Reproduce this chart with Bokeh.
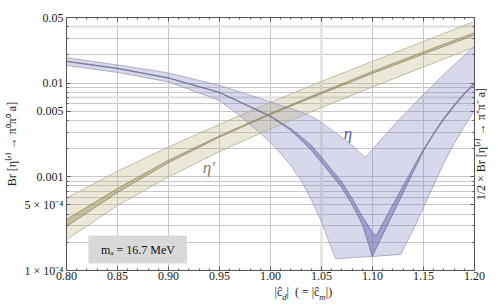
import math
from bokeh.plotting import figure
from bokeh.models import (FixedTicker, LogAxis, LinearAxis, Label, CustomJSTickFormatter,
                          BoxAnnotation, Span)
from bokeh.embed import file_html
from bokeh.resources import INLINE

FONT = "Liberation Serif"

# ---------------- data ----------------
x_ticks = [0.80, 0.85, 0.90, 0.95, 1.00, 1.05, 1.10, 1.15, 1.20]
x_tick_labels = ["0.80", "0.85", "0.90", "0.95", "1.00", "1.05", "1.10", "1.15", "1.20"]
x_minor = [0.81, 0.82, 0.83, 0.84, 0.86, 0.87, 0.88, 0.89, 0.91, 0.92, 0.93, 0.94,
           0.96, 0.97, 0.98, 0.99, 1.01, 1.02, 1.03, 1.04, 1.06, 1.07, 1.08, 1.09,
           1.11, 1.12, 1.13, 1.14, 1.16, 1.17, 1.18, 1.19]
x_grid = [0.85, 0.90, 0.95, 1.00, 1.05, 1.10, 1.15]
x_emph = [1.05]

y_ticks = [1e-4, 5e-4, 1e-3, 5e-3, 0.01, 0.05]
y_tick_labels = ["1 × 10⁻⁴", "5 × 10⁻⁴", "0.001", "0.005", "0.01", "0.05"]
y_minor = [2e-4, 3e-4, 4e-4, 6e-4, 7e-4, 8e-4, 9e-4, 2e-3, 3e-3, 4e-3, 6e-3, 7e-3,
           8e-3, 9e-3, 0.02, 0.03, 0.04]
y_grid = [2e-4, 3e-4, 4e-4, 5e-4, 6e-4, 7e-4, 8e-4, 9e-4, 1e-3, 2e-3, 3e-3, 4e-3,
          5e-3, 6e-3, 7e-3, 8e-3, 9e-3, 0.01, 0.02, 0.03, 0.04]
y_emph = [0.04, 0.007]

# axis titles (text pieces; subscripts separate)
y_title = "Br [η⁽′⁾ → π⁰π⁰ a]"
y2_title = "1/2 × Br [η⁽′⁾ → π⁺π⁻ a]"
x_title_parts = ["|ĉ", "|\u2002( = |ĉ", "|)"]
x_title_subs = ["d", "m"]

# eta' band
etap_x = [0.80, 0.85, 0.90, 0.95, 1.00, 1.05, 1.10, 1.15, 1.20]
etap_hi = [5.91e-4, 1.147e-3, 2.08e-3, 3.62e-3, 6.21e-3, 0.0104, 0.0170, 0.0278, 0.0454]
etap_lo = [2.13e-4, 4.94e-4, 9.95e-4, 1.862e-3, 3.24e-3, 5.49e-3, 9.08e-3, 0.01486, 0.02416]
etap_in_hi = [3.50e-4, 7.50e-4, 1.50e-3, 2.73e-3, 4.75e-3, 8.00e-3, 0.01330, 0.02152, 0.0344]
etap_in_lo = [2.95e-4, 6.80e-4, 1.415e-3, 2.65e-3, 4.61e-3, 7.69e-3, 0.01266, 0.02040, 0.0324]

# eta band
eta_x = [0.80, 0.85, 0.90, 0.95, 0.97, 0.99, 1.00, 1.01, 1.02, 1.03, 1.04, 1.05, 1.0576,
         1.064, 1.07, 1.08, 1.0927, 1.10, 1.11, 1.12, 1.1275, 1.14, 1.15, 1.16, 1.17,
         1.18, 1.19, 1.20]
eta_hi = [0.01862, 0.01561, 0.01282, 9.43e-3, 8.04e-3, 6.85e-3, 6.28e-3, 5.77e-3, 5.36e-3,
          4.92e-3, 4.40e-3, 3.80e-3, 3.28e-3, 2.93e-3, 2.63e-3, 2.16e-3, 1.60e-3, 1.96e-3,
          2.60e-3, 3.44e-3, 4.21e-3, 5.84e-3, 7.55e-3, 9.66e-3, 0.01236, 0.01561, 0.0197,
          0.02458]
eta_lo = [0.01541, 0.01298, 0.01027, 6.52e-3, 4.46e-3, 2.93e-3, 2.30e-3, 1.77e-3, 1.32e-3,
          9.13e-4, 5.72e-4, 3.33e-4, 1.99e-4, 1.33e-4, 1.346e-4, 1.37e-4, 1.397e-4, 1.41e-4,
          1.439e-4, 1.464e-4, 1.482e-4, 2.74e-4, 4.70e-4, 8.18e-4, 1.404e-3, 2.267e-3,
          3.44e-3, 5.10e-3]

eta_in_hi_x = [0.80, 0.85, 0.90, 0.95, 1.00, 1.02, 1.03, 1.04, 1.05, 1.06, 1.07, 1.08, 1.09,
               1.10, 1.1037, 1.11, 1.12, 1.13, 1.14, 1.15, 1.16, 1.17, 1.18, 1.19, 1.20]
eta_in_hi = [0.01712, 0.01440, 0.01138, 7.96e-3, 4.45e-3, 3.25e-3, 2.68e-3, 2.16e-3, 1.61e-3,
             1.19e-3, 8.76e-4, 5.87e-4, 3.77e-4, 2.55e-4, 2.36e-4, 3.17e-4, 5.06e-4, 7.98e-4,
             1.257e-3, 1.96e-3, 2.93e-3, 4.24e-3, 5.84e-3, 7.84e-3, 0.01002]
eta_in_lo_x = [0.80, 0.85, 0.90, 0.95, 1.00, 1.02, 1.03, 1.04, 1.05, 1.06, 1.07, 1.08, 1.09,
               1.095, 1.0998, 1.11, 1.12, 1.13, 1.14, 1.15, 1.16, 1.17, 1.18, 1.19, 1.20]
eta_in_lo = [0.01692, 0.01422, 0.01127, 7.89e-3, 4.38e-3, 3.12e-3, 2.47e-3, 1.92e-3, 1.42e-3,
             1.045e-3, 7.60e-4, 5.06e-4, 3.10e-4, 2.09e-4, 1.41e-4, 2.392e-4, 4.01e-4, 6.72e-4,
             1.125e-3, 1.89e-3, 2.83e-3, 4.09e-3, 5.63e-3, 7.55e-3, 9.66e-3]

# ---------------- layout constants (positions, not data) ----------------
X_TITLE_POS = [1.00771, 1.03180, 1.05737]
X_SUB_POS = [1.01366, 1.05102]
Y2_TITLE_POS = [5.6e-4]

# ---------------- figure ----------------
p = figure(width=498, height=305, x_range=(0.80, 1.20), y_range=(1e-4, 0.05),
           y_axis_type="log", output_backend="svg", toolbar_location=None,
           min_border_left=66, min_border_right=22, min_border_top=17, min_border_bottom=35)
p.background_fill_color = "white"
p.border_fill_color = "white"
p.outline_line_color = "#555555"


def lookup_formatter(vals, labs, log=False):
    f = "Math.abs(Math.log10(tick) - Math.log10(vals[i])) < 1e-6" if log else "Math.abs(tick - vals[i]) < 1e-6"
    return CustomJSTickFormatter(args=dict(vals=vals, labs=labs), code=
        "for (let i = 0; i < vals.length; i++) { if (" + f + ") return labs[i]; } return '';")


blank = CustomJSTickFormatter(code="return '';")
xt = FixedTicker(ticks=x_ticks, minor_ticks=x_minor)
yt = FixedTicker(ticks=y_ticks, minor_ticks=y_minor)

bx = p.below[0]
ly = p.left[0]
bx.ticker = xt
bx.formatter = lookup_formatter(x_ticks, x_tick_labels)
ly.ticker = yt
ly.formatter = lookup_formatter(y_ticks, y_tick_labels, log=True)
ly.axis_label = y_title

top = LinearAxis(ticker=xt, formatter=blank)
right = LogAxis(ticker=yt, formatter=blank)
p.add_layout(top, "above")
p.add_layout(right, "right")

for ax in [bx, ly, top, right]:
    ax.axis_line_color = "#555555"
    ax.major_tick_line_color = "#555555"
    ax.minor_tick_line_color = "#555555"
    ax.major_tick_in = 4
    ax.major_tick_out = 0
    ax.minor_tick_in = 2
    ax.minor_tick_out = 0
    ax.major_label_text_font = FONT
    ax.major_label_text_font_size = "12px"
    ax.major_label_text_color = "#1a1a1a"
    ax.major_label_standoff = 3
    ax.axis_label_text_font = FONT
    ax.axis_label_text_font_style = "normal"
    ax.axis_label_text_font_size = "12px"
    ax.axis_label_text_color = "#1a1a1a"
    ax.axis_label_standoff = 3
top.major_label_standoff = 0
right.major_label_standoff = 0
bx.major_label_standoff = 1


def text_axis(cls, ticks, labs, size, standoff, log=False, italic=False):
    a = cls(ticker=FixedTicker(ticks=ticks), formatter=lookup_formatter(ticks, labs, log=log))
    a.axis_line_color = None
    a.major_tick_line_color = None
    a.minor_tick_line_color = None
    a.major_tick_in = 0
    a.major_tick_out = 0
    a.minor_tick_in = 0
    a.minor_tick_out = 0
    a.major_label_text_font = FONT
    a.major_label_text_font_size = size
    a.major_label_text_color = "#1a1a1a"
    a.major_label_text_font_style = "italic" if italic else "normal"
    a.major_label_standoff = standoff
    return a


xtitle = text_axis(LinearAxis, X_TITLE_POS, x_title_parts, "12px", 2)
xsub = text_axis(LinearAxis, X_SUB_POS, x_title_subs, "9px", -10, italic=True)
p.add_layout(xtitle, "below")
p.add_layout(xsub, "below")

y2title = text_axis(LogAxis, Y2_TITLE_POS, [y2_title], "12px", 7, log=True)
y2title.major_label_orientation = math.pi / 2
p.add_layout(y2title, "right")

p.xgrid.ticker = FixedTicker(ticks=x_grid)
p.ygrid.ticker = FixedTicker(ticks=y_grid)
p.grid.grid_line_color = "#c8c8c8"
p.grid.grid_line_width = 1

# light emphasis grid lines of the original
for v in x_emph:
    p.add_layout(Span(location=v, dimension="height", line_color="#e2e2e2", line_width=2.5,
                      level="underlay"))
for v in y_emph:
    p.add_layout(Span(location=v, dimension="width", line_color="#e2e2e2", line_width=2.5,
                      level="underlay"))

# bands
p.varea(x=eta_x, y1=eta_lo, y2=eta_hi, fill_color="#8585c8", fill_alpha=0.32)
p.varea(x=etap_x, y1=etap_lo, y2=etap_hi, fill_color="#bdb27b", fill_alpha=0.30)
p.line(eta_x, eta_hi, line_color="#9f9fb8", line_width=0.8)
p.line(eta_x, eta_lo, line_color="#9f9fb8", line_width=0.8)
p.line(etap_x, etap_hi, line_color="#b5ad90", line_width=0.8)
p.line(etap_x, etap_lo, line_color="#b5ad90", line_width=0.8)

p.patch(x=eta_in_hi_x + eta_in_lo_x[::-1], y=eta_in_hi + eta_in_lo[::-1],
        fill_color="#5c5cb0", fill_alpha=0.45, line_color="#6c6c8c", line_width=0.7)
p.patch(x=etap_x + etap_x[::-1], y=etap_in_hi + etap_in_lo[::-1],
        fill_color="#9a8f55", fill_alpha=0.45, line_color="#8b8060", line_width=0.7)

# in-plot labels
p.add_layout(Label(x=1.076, y=2.9e-3, text="η", text_font=FONT, text_font_style="italic",
                   text_font_size="17px", text_color="#5a5aa0", text_align="center",
                   text_baseline="middle"))
p.add_layout(Label(x=0.9395, y=1.26e-3, text="η′", text_font=FONT, text_font_style="italic",
                   text_font_size="17px", text_color="#8a7a68", text_align="center",
                   text_baseline="middle"))
p.add_layout(BoxAnnotation(left=0.8215, right=0.918, bottom=1.19e-4, top=2.36e-4,
                           fill_color="#d9d9d9", fill_alpha=1.0, line_color=None, level="underlay"))
p.add_layout(Label(x=0.87, y=1.675e-4, text="mₐ = 16.7 MeV", text_font=FONT,
                   text_font_size="12px", text_color="#111111", text_align="center",
                   text_baseline="middle"))

open("out.html", "w").write(file_html(p, INLINE))
